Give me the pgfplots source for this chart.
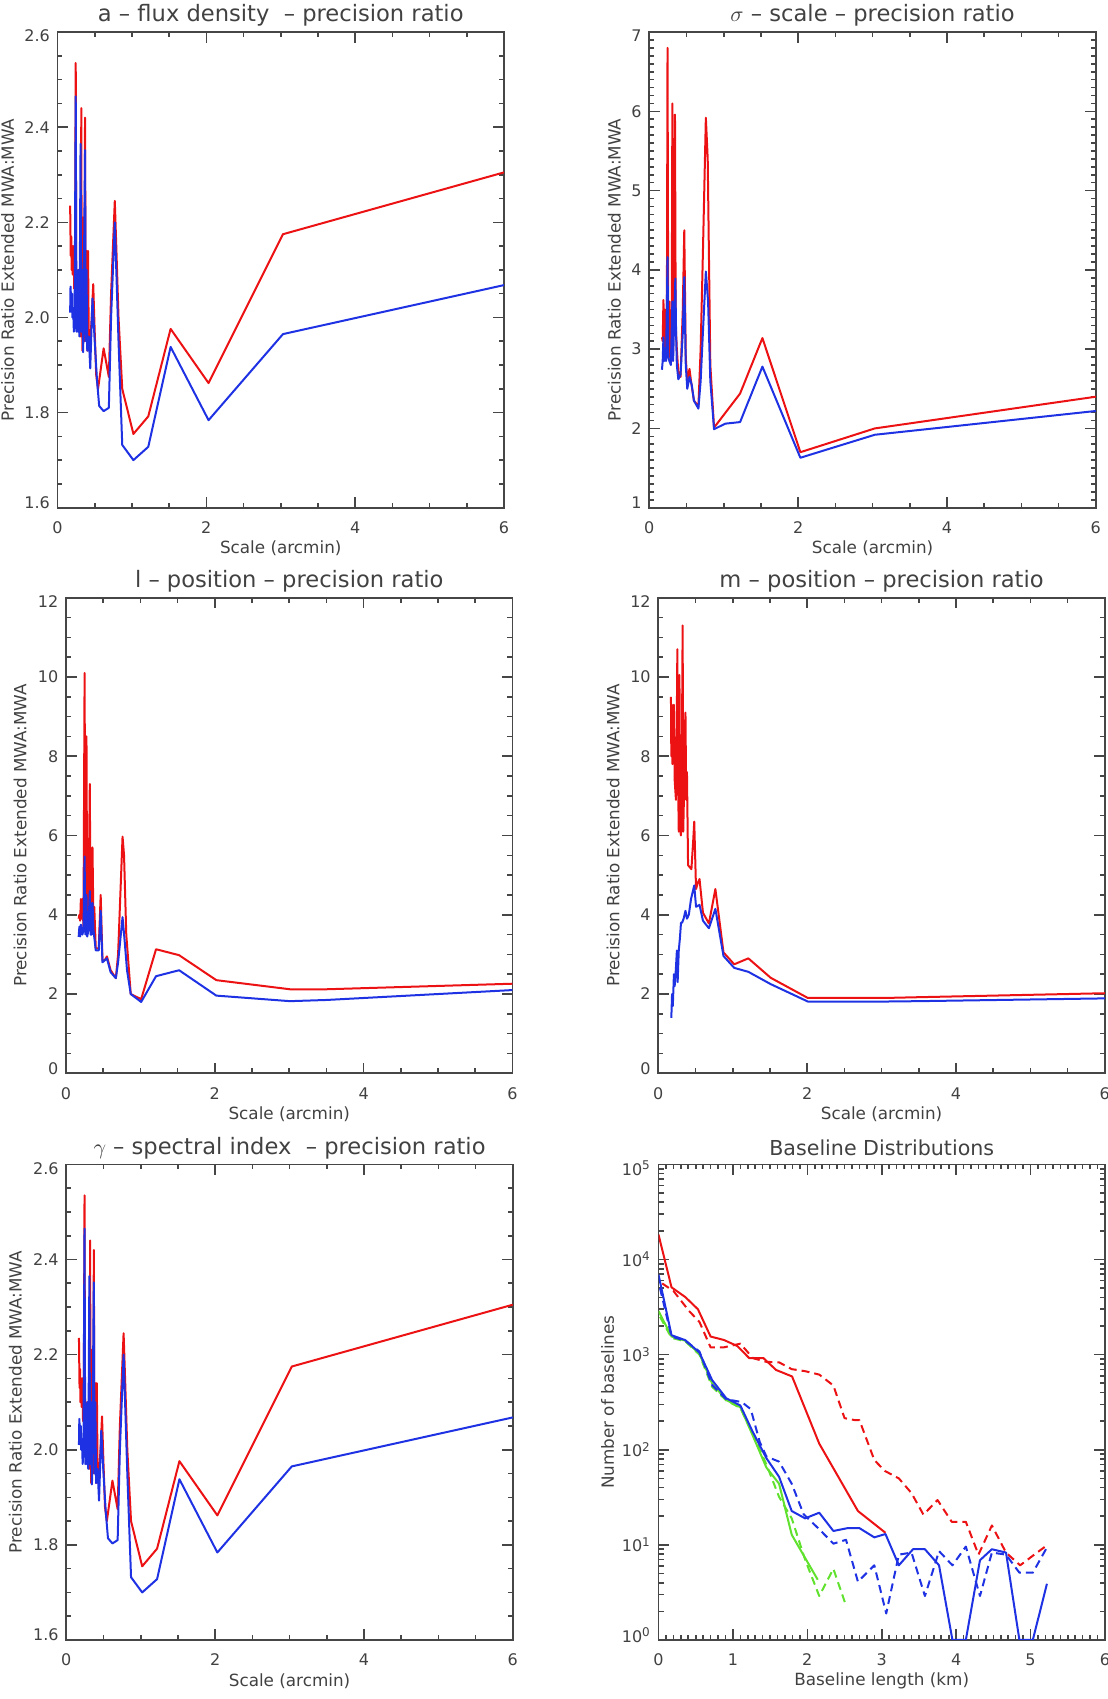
\documentclass[border=0pt]{standalone}
\usepackage{pgfplots}
\pgfplotsset{compat=1.18}
\usepackage{pgfplotstable}
\usepackage{fontspec}
\setmainfont{DejaVu Sans}
\definecolor{axgray}{RGB}{70,70,70}
\definecolor{txtgray}{RGB}{65,65,65}
\definecolor{myred}{RGB}{236,18,20}
\definecolor{myblue}{RGB}{30,50,228}
\definecolor{mygreen}{RGB}{95,225,45}

\newcommand\lup[1]{\raisebox{2.5pt}[\height][\depth]{#1}}
\newcommand\ldown[1]{\raisebox{-2pt}[\height][\depth]{#1}}
\newcommand\ylab[1]{\ifnum\ticknum=0 \lup{\pgfmathprintnumber{\tick}}\else\ifnum\ticknum=#1 \ldown{\pgfmathprintnumber{\tick}}\else\pgfmathprintnumber{\tick}\fi\fi}

\pgfplotstableread{
x y
0.17 2.235
0.178 2.13
0.185 2.17
0.19 2.10
0.20 2.15
0.205 2.09
0.215 2.15
0.225 2.06
0.235 2.10
0.245 2.535
0.252 2.06
0.262 2.09
0.27 1.98
0.28 2.10
0.29 1.97
0.30 2.05
0.31 1.96
0.32 2.44
0.325 2.08
0.335 1.93
0.345 2.21
0.36 1.95
0.37 2.42
0.378 2.00
0.39 2.14
0.40 1.93
0.41 2.14
0.42 1.96
0.44 1.95
0.46 2.00
0.48 2.07
0.50 1.97
0.52 1.88
0.545 1.85
0.62 1.935
0.69 1.875
0.72 2.05
0.77 2.245
0.79 2.15
0.82 2.00
0.87 1.85
1.02 1.755
1.22 1.792
1.52 1.976
2.03 1.862
3.03 2.175
6.0 2.305
}\tabAred
\pgfplotstableread{
x y
0.17 2.01
0.175 2.065
0.185 2.03
0.195 2.05
0.20 2.00
0.21 2.02
0.22 1.97
0.23 2.00
0.245 2.465
0.255 1.97
0.265 2.05
0.275 1.97
0.285 2.10
0.295 1.96
0.31 2.365
0.32 1.97
0.33 2.10
0.345 1.927
0.37 2.352
0.38 1.95
0.39 2.10
0.40 1.93
0.42 1.96
0.44 1.893
0.47 2.04
0.50 1.95
0.53 1.87
0.56 1.814
0.62 1.803
0.69 1.81
0.72 2.0
0.77 2.20
0.79 2.1
0.82 1.95
0.87 1.732
1.02 1.70
1.22 1.728
1.52 1.938
2.03 1.784
3.03 1.965
6.0 2.068
}\tabAblue

\pgfplotsset{
  panel/.style={
    scale only axis, width=223.25pt, height=237.8pt, anchor=south west,
    axis line style={line width=0.85pt, color=axgray},
    every tick/.style={line width=0.8pt, color=axgray},
    major tick length=5.35pt, minor tick length=2.5pt,
    tick align=inside,
    /pgf/number format/assume math mode=true,
    tick label style={font=\fontsize{8}{9.5}\selectfont, color=txtgray},
    xticklabel style={anchor=center, yshift=-10pt},
    yticklabel style={anchor=east, xshift=-0.3pt},
    label style={font=\fontsize{8.4}{10}\selectfont, color=txtgray},
    xlabel style={at={(axis description cs:0.5,-0.086)}, anchor=center},
    title style={font=\fontsize{11.3}{13}\selectfont, color=txtgray, at={(axis description cs:0.5,1)}, anchor=center, yshift=2.2pt},
    every axis plot/.append style={line width=1pt, line join=round},
  },
  scalex/.style={xmin=0, xmax=6, xtick={0,2,4,6}, minor x tick num=3, xlabel={Scale (arcmin)}},
}

\begin{document}
\begin{tikzpicture}
\useasboundingbox (0,0) rectangle (554pt,849.5pt);

% Panel 1: a - flux density
\begin{axis}[panel, scalex, at={(28.75pt,595.65pt)},
  ymin=1.6, ymax=2.6, ytick={1.6,1.8,2.0,2.2,2.4,2.6}, minor y tick num=3,
  yticklabel style={/pgf/number format/.cd, fixed, fixed zerofill, precision=1},
  yticklabel={\ylab{5}},
  ylabel={Precision Ratio Extended MWA:MWA},
  ylabel style={at={(axis description cs:-0.112,0.5)}, anchor=center},
  title={a \textendash\ flux density \ \textendash\ precision ratio}]
\addplot[myred] table {\tabAred};
\addplot[myblue] table {\tabAblue};
\end{axis}

% Panel 2: sigma - scale
\begin{axis}[panel, scalex, at={(324.65pt,595.65pt)},
  ymin=1, ymax=7, ytick={1,2,3,4,5,6,7}, minor y tick num=9,
  yticklabel={\ylab{6}},
  ylabel={Precision Ratio Extended MWA:MWA},
  ylabel style={at={(axis description cs:-0.078,0.5)}, anchor=center},
  title={$\sigma$ \textendash\ scale \textendash\ precision ratio}]
\addplot[myred] coordinates {
(0.17,3.15) (0.18,3.1) (0.19,3.62) (0.20,3.0) (0.21,3.5) (0.22,2.95) (0.235,3.0)
(0.245,6.8) (0.255,3.1) (0.27,3.6) (0.28,2.9) (0.30,2.85) (0.31,6.1) (0.32,2.95)
(0.33,4.5) (0.345,5.96) (0.355,3.3) (0.37,3.0) (0.39,2.7) (0.42,2.65) (0.45,3.5)
(0.47,4.5) (0.49,2.9) (0.51,2.6) (0.54,2.75) (0.56,2.6) (0.60,2.35) (0.66,2.28)
(0.69,3.0) (0.72,4.2) (0.76,5.92) (0.785,5.4) (0.82,2.8) (0.87,2.01) (1.22,2.44)
(1.52,3.14) (2.03,1.70) (3.03,2.00) (6.0,2.40)};
\addplot[myblue] coordinates {
(0.17,2.74) (0.18,2.85) (0.19,3.15) (0.20,2.85) (0.21,2.95) (0.225,2.85) (0.245,4.16)
(0.255,2.9) (0.27,2.85) (0.29,2.8) (0.31,3.6) (0.32,2.85) (0.335,3.4) (0.35,3.89)
(0.36,3.2) (0.37,2.8) (0.39,2.62) (0.42,2.68) (0.45,3.2) (0.47,3.91) (0.49,2.8)
(0.51,2.5) (0.54,2.65) (0.57,2.55) (0.60,2.35) (0.66,2.25) (0.69,2.6) (0.72,3.2)
(0.76,3.98) (0.79,3.6) (0.82,2.6) (0.87,1.99) (1.02,2.06) (1.22,2.08) (1.52,2.78)
(2.03,1.63) (3.03,1.92) (6.0,2.22)};
\end{axis}

% Panel 3: l - position
\begin{axis}[panel, scalex, at={(33pt,312.85pt)},
  ymin=0, ymax=12, ytick={0,2,4,6,8,10,12}, minor y tick num=3,
  yticklabel={\ylab{6}},
  ylabel={Precision Ratio Extended MWA:MWA},
  ylabel style={at={(axis description cs:-0.103,0.5)}, anchor=center},
  title={l \textendash\ position \textendash\ precision ratio}]
\addplot[myred] coordinates {
(0.17,3.9) (0.18,4.0) (0.19,3.85) (0.20,4.4) (0.21,3.9) (0.22,4.4) (0.235,3.7)
(0.25,10.1) (0.26,3.6) (0.275,8.5) (0.285,3.6) (0.30,3.7) (0.32,7.3) (0.33,3.6)
(0.34,4.8) (0.356,5.7) (0.37,3.6) (0.38,4.2) (0.40,3.15) (0.44,3.15) (0.466,4.5)
(0.49,2.85) (0.52,2.85) (0.55,2.95) (0.60,2.6) (0.67,2.4) (0.70,3.0) (0.76,5.97)
(0.78,5.5) (0.81,3.5) (0.87,2.0) (1.01,1.87) (1.21,3.13) (1.52,2.98) (2.02,2.35)
(3.01,2.12) (3.5,2.12) (6.0,2.26)};
\addplot[myblue] coordinates {
(0.17,3.44) (0.18,3.7) (0.19,3.45) (0.20,3.75) (0.22,3.5) (0.235,3.6) (0.25,5.47)
(0.26,3.5) (0.275,4.5) (0.285,3.45) (0.30,3.6) (0.32,4.6) (0.33,3.5) (0.345,3.5)
(0.356,4.3) (0.37,3.6) (0.40,3.1) (0.44,3.1) (0.466,4.1) (0.49,2.8) (0.52,2.85)
(0.55,2.9) (0.60,2.55) (0.67,2.4) (0.70,2.8) (0.76,3.94) (0.79,3.3) (0.82,2.6)
(0.87,2.0) (1.01,1.8) (1.21,2.45) (1.52,2.6) (2.02,1.96) (3.01,1.82) (3.5,1.85)
(6.0,2.1)};
\end{axis}

% Panel 4: m - position
\begin{axis}[panel, scalex, at={(329.15pt,312.85pt)},
  ymin=0, ymax=12, ytick={0,2,4,6,8,10,12}, minor y tick num=3,
  yticklabel={\ylab{6}},
  ylabel={Precision Ratio Extended MWA:MWA},
  ylabel style={at={(axis description cs:-0.101,0.5)}, anchor=center},
  title={m \textendash\ position \textendash\ precision ratio}]
\addplot[myred] coordinates {
(0.17,9.5) (0.175,8.0) (0.18,9.3) (0.19,7.8) (0.20,8.4) (0.21,9.3) (0.22,7.4)
(0.237,6.9) (0.245,8.0) (0.256,10.7) (0.265,7.5) (0.275,6.1) (0.284,10.05)
(0.293,6.2) (0.303,6.0) (0.31,6.2) (0.32,9.0) (0.327,11.3) (0.335,6.1) (0.345,7.0)
(0.355,8.5) (0.365,9.1) (0.375,6.9) (0.385,7.6) (0.40,5.25) (0.445,5.15) (0.47,5.9)
(0.483,6.35) (0.495,5.5) (0.507,4.65) (0.53,4.8) (0.554,4.9) (0.60,4.05) (0.68,3.78)
(0.767,4.65) (0.876,3.05) (1.02,2.75) (1.21,2.9) (1.51,2.41) (2.01,1.9) (3.03,1.9)
(3.5,1.92) (6.0,2.02)};
\addplot[myblue] coordinates {
(0.175,1.4) (0.185,2.0) (0.195,1.7) (0.21,2.5) (0.22,2.2) (0.235,2.6) (0.25,3.1)
(0.26,2.3) (0.275,3.1) (0.29,3.4) (0.305,3.8) (0.32,3.8) (0.34,3.9) (0.365,4.1)
(0.385,3.9) (0.41,4.0) (0.44,4.4) (0.483,4.74) (0.507,4.2) (0.554,4.25) (0.60,3.85)
(0.68,3.66) (0.767,4.15) (0.876,2.96) (1.02,2.66) (1.21,2.56) (1.51,2.25) (2.01,1.81)
(3.03,1.81) (3.5,1.82) (6.0,1.89)};
\end{axis}

% Panel 5: gamma - spectral index
\begin{axis}[panel, scalex, at={(33.15pt,29.5pt)},
  ymin=1.6, ymax=2.6, ytick={1.6,1.8,2.0,2.2,2.4,2.6}, minor y tick num=3,
  yticklabel style={/pgf/number format/.cd, fixed, fixed zerofill, precision=1},
  yticklabel={\ylab{5}},
  ylabel={Precision Ratio Extended MWA:MWA},
  ylabel style={at={(axis description cs:-0.114,0.5)}, anchor=center},
  title={$\gamma$ \textendash\ spectral index \ \textendash\ precision ratio}]
\addplot[myred] table {\tabAred};
\addplot[myblue] table {\tabAblue};
\end{axis}

% Panel 6: baseline distributions
\begin{axis}[panel, at={(329.25pt,29.5pt)},
  xmin=0, xmax=6, xtick={0,1,2,3,4,5,6}, minor x tick num=9,
  ymode=log, ymin=1, ymax=100000,
  ytick={1,10,100,1000,10000,100000},
  yticklabels={\lup{10\textsuperscript{0}},10\textsuperscript{1},10\textsuperscript{2},10\textsuperscript{3},10\textsuperscript{4},\ldown{10\textsuperscript{5}}},
  xlabel={Baseline length (km)},
  ylabel={Number of baselines},
  ylabel style={at={(axis description cs:-0.114,0.5)}, anchor=center},
  title style={font=\fontsize{10.3}{12}\selectfont},
  title={Baseline Distributions}]
\addplot[myred] coordinates {
(0,18300) (0.175,5100) (0.36,4030) (0.53,3000) (0.70,1550) (0.88,1425) (1.06,1230)
(1.22,918) (1.41,920) (1.58,690) (1.795,590) (2.16,116) (2.68,22.7) (3.05,13.4)};
\addplot[myred, dash pattern=on 4pt off 2.5pt] coordinates {
(0.05,5600) (0.2,4680) (0.41,2880) (0.55,2210) (0.70,1194) (0.88,1194) (1.10,1304)
(1.27,918) (1.45,840) (1.62,830) (1.79,704) (1.97,670) (2.16,617) (2.35,474)
(2.50,215) (2.64,205) (2.70,205) (2.90,78) (3.04,60) (3.23,50) (3.40,35) (3.56,20.8)
(3.75,29.6) (3.94,17.5) (4.13,17.5) (4.30,7.9) (4.48,16) (4.67,8.3) (4.86,6.1)
(5.05,7.9) (5.22,9.9)};
\addplot[mygreen] coordinates {
(0,2880) (0.175,1550) (0.36,1400) (0.55,1020) (0.72,500) (0.91,333) (1.10,280)
(1.26,145) (1.45,65) (1.62,44) (1.79,12.8) (1.97,7.3) (2.14,4.3)};
\addplot[mygreen, dash pattern=on 4pt off 2.5pt] coordinates {
(0.02,2500) (0.175,1500) (0.36,1380) (0.55,1000) (0.72,460) (0.91,330) (1.10,275)
(1.26,150) (1.45,70) (1.62,32) (1.79,19) (1.97,7) (2.16,2.9) (2.35,5.6) (2.52,2.3)};
\addplot[myblue] coordinates {
(0,6950) (0.175,1600) (0.36,1420) (0.55,1050) (0.72,541) (0.91,348) (1.10,292)
(1.26,158) (1.45,81.5) (1.62,52) (1.79,22.7) (1.97,19) (2.16,21.8) (2.35,14)
(2.54,15) (2.70,15) (2.90,12) (3.05,13) (3.23,6.1) (3.42,9) (3.58,9) (3.77,6.1)
(3.95,1) (4.13,1) (4.32,6.9) (4.48,9) (4.67,8.3) (4.85,1) (5.03,1) (5.22,3.9)};
\addplot[myblue, dash pattern=on 4pt off 2.5pt] coordinates {
(0.02,5000) (0.175,1550) (0.36,1400) (0.55,1080) (0.72,480) (0.91,340) (1.12,317)
(1.24,267) (1.36,121) (1.45,85) (1.62,75) (1.79,44) (1.95,21) (2.16,14.6) (2.35,10.3)
(2.52,11.3) (2.68,4.1) (2.90,6.1) (3.06,1.9) (3.23,7.9) (3.40,8.3) (3.58,2.9)
(3.77,8.6) (3.95,6.1) (4.13,9.6) (4.32,2.9) (4.48,8.3) (4.67,7.9) (4.85,5.1)
(5.03,5.1) (5.22,9.4)};
\end{axis}
\end{tikzpicture}
\end{document}
